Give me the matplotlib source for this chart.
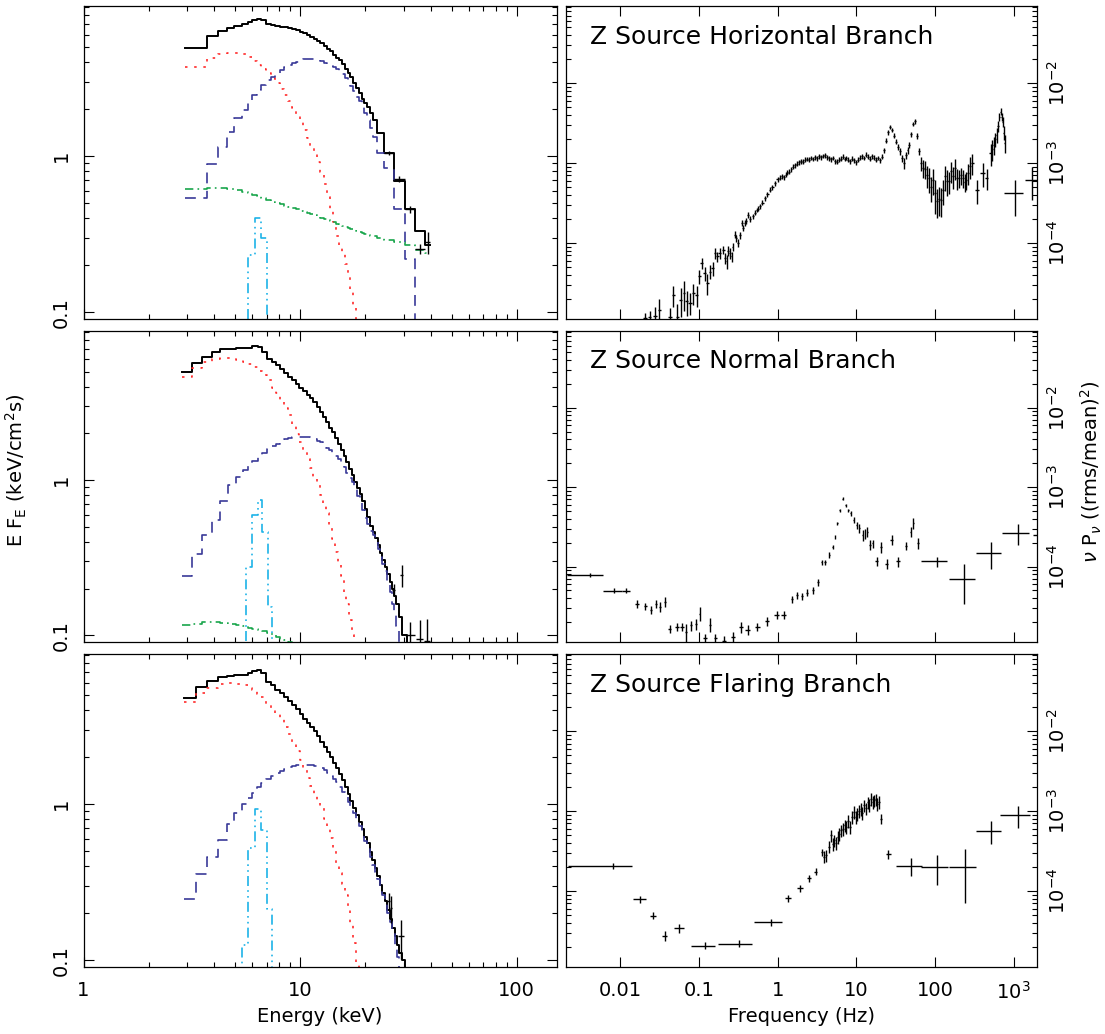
import numpy as np
import matplotlib
matplotlib.use("Agg")
import matplotlib.pyplot as plt
from matplotlib.ticker import FixedLocator, FixedFormatter, LogLocator, NullFormatter, NullLocator

plt.rcParams["font.family"] = ["DejaVu Sans"]
plt.rcParams["mathtext.fontset"] = "dejavusans"

# ---------------- energy spectra (keV, keV/cm^2/s) ----------------
# horizontal branch
hb_edges = [2.94, 3.73, 4.17, 4.59, 4.97, 5.38, 5.73, 6.02, 6.31, 6.61,
            6.97, 7.33, 7.69, 8.06, 8.43, 8.80, 9.18, 9.56, 9.95, 10.35,
            10.75, 11.15, 11.56, 11.98, 12.40, 12.83, 13.27, 13.71, 14.16, 14.62,
            15.09, 15.57, 16.06, 16.56, 17.07, 17.59, 18.12, 18.66, 19.21, 19.77,
            20.34, 20.92, 21.60, 22.60, 24.50, 27.00, 30.50, 34.00, 37.80, 39.70]
hb_total = [4.91, 5.91, 6.33, 6.59, 6.85, 7.02, 7.26, 7.45, 7.56, 7.48,
            7.02, 6.95, 6.85, 6.76, 6.68, 6.60, 6.50, 6.38, 6.25, 6.10,
            5.96, 5.80, 5.63, 5.45, 5.27, 5.08, 4.88, 4.68, 4.47, 4.26,
            4.10, 3.88, 3.62, 3.39, 3.20, 2.95, 2.74, 2.53, 2.33, 2.20,
            2.05, 1.88, 1.70, 1.40, 1.04, 0.69, 0.46, 0.33, 0.27]
hb_disk = [3.74, 4.23, 4.50, 4.60, 4.58, 4.50, 4.30, 4.08, 3.85, 3.62,
           3.40, 3.17, 2.93, 2.70, 2.47, 2.27, 2.02, 1.85, 1.65, 1.48,
           1.30, 1.16, 1.04, 0.91, 0.79, 0.66, 0.55, 0.46, 0.38, 0.31,
           0.27, 0.235, 0.205, 0.17, 0.14, 0.108, 0.085, 0.066]
hb_comp = [0.542, 0.887, 1.15, 1.42, 1.75, 1.98, 2.27, 2.45, 2.65, 2.86,
           3.05, 3.22, 3.39, 3.55, 3.70, 3.82, 3.93, 4.02, 4.10, 4.16,
           4.19, 4.19, 4.17, 4.12, 4.05, 3.97, 3.90, 3.80, 3.70, 3.62,
           3.52, 3.35, 3.15, 2.97, 2.80, 2.60, 2.40, 2.25, 2.05, 1.88,
           1.70, 1.52, 1.32, 1.05, 0.84, 0.46, 0.22, 0.04]
hb_pl = [0.617, 0.628, 0.627, 0.620, 0.605, 0.588, 0.578, 0.565, 0.552, 0.538,
         0.522, 0.510, 0.500, 0.490, 0.481, 0.472, 0.463, 0.455, 0.447, 0.439,
         0.431, 0.424, 0.417, 0.410, 0.403, 0.396, 0.389, 0.382, 0.376, 0.370,
         0.364, 0.358, 0.352, 0.346, 0.340, 0.335, 0.330, 0.326, 0.322, 0.318,
         0.314, 0.310, 0.306, 0.300, 0.292, 0.280, 0.268, 0.252, 0.240]
hb_line_edges = [5.38, 5.77, 6.20, 6.61, 7.02, 7.40]
hb_line = [0.01, 0.233, 0.40, 0.30, 0.01]
hb_data_e = [25.75, 28.75, 32.25, 35.9, 38.75]
hb_data_de = [1.25, 1.75, 1.75, 1.9, 0.95]
hb_data_v = [1.05, 0.715, 0.455, 0.255, 0.28]
hb_data_err = [0.03, 0.03, 0.025, 0.02, 0.045]

# normal branch
nb_edges = [2.86, 3.18, 3.54, 3.91, 4.27, 4.67, 5.07, 5.47, 5.75, 6.02,
            6.38, 6.70, 7.05, 7.40, 7.75, 8.10, 8.46, 8.82, 9.18, 9.55,
            9.93, 10.31, 10.70, 11.09, 11.49, 11.90, 12.31, 12.73, 13.16, 13.59,
            14.03, 14.48, 14.93, 15.39, 15.86, 16.34, 16.82, 17.31, 17.81, 18.32,
            18.84, 19.37, 19.91, 20.46, 21.02, 21.59, 22.17, 22.76, 23.36, 23.97,
            24.59, 25.22, 25.86, 26.51, 27.17, 27.84, 28.52, 29.50, 31.00, 32.50]
nb_total = [5.00, 5.72, 6.25, 6.67, 6.97, 7.05, 7.07, 7.10, 7.13, 7.37,
            7.25, 6.67, 6.04, 5.80, 5.50, 5.18, 4.92, 4.65, 4.42, 4.18,
            3.95, 3.76, 3.56, 3.38, 3.17, 2.97, 2.74, 2.55, 2.38, 2.18,
            2.03, 1.88, 1.72, 1.56, 1.43, 1.30, 1.18, 1.08, 0.98, 0.89,
            0.81, 0.73, 0.65, 0.58, 0.51, 0.465, 0.425, 0.38, 0.34, 0.305,
            0.275, 0.248, 0.222, 0.198, 0.178, 0.158, 0.132, 0.101, 0.05]
nb_disk = [4.65, 5.26, 5.80, 6.04, 6.10, 6.10, 5.95, 5.75, 5.58, 5.35,
           5.05, 4.78, 4.45, 3.95, 3.62, 3.22, 2.90, 2.62, 2.30, 1.98,
           1.75, 1.52, 1.36, 1.20, 1.05, 0.93, 0.80, 0.70, 0.61, 0.51,
           0.42, 0.345, 0.29, 0.24, 0.19, 0.16, 0.125, 0.10, 0.08, 0.065]
nb_comp = [0.242, 0.332, 0.442, 0.552, 0.732, 0.93, 1.05, 1.16, 1.24, 1.33,
           1.42, 1.50, 1.58, 1.66, 1.72, 1.78, 1.83, 1.87, 1.90, 1.91,
           1.91, 1.90, 1.89, 1.87, 1.84, 1.80, 1.75, 1.69, 1.62, 1.56,
           1.50, 1.43, 1.37, 1.31, 1.22, 1.12, 1.04, 0.97, 0.88, 0.79,
           0.72, 0.64, 0.57, 0.52, 0.47, 0.44, 0.41, 0.36, 0.32, 0.29,
           0.26, 0.225, 0.19, 0.16, 0.135, 0.115, 0.085, 0.06]
nb_pl = [0.116, 0.119, 0.121, 0.121, 0.120, 0.118, 0.116, 0.114, 0.112, 0.110,
         0.108, 0.106, 0.103, 0.100, 0.098, 0.095, 0.093, 0.091, 0.089, 0.087,
         0.085, 0.083]
nb_line_edges = [5.30, 5.63, 6.02, 6.38, 6.70, 7.09, 7.45, 7.80]
nb_line = [0.01, 0.276, 0.594, 0.743, 0.465, 0.152, 0.01]
nb_data_e = [27.0, 29.4, 32.3, 35.7, 38.5]
nb_data_de = [0.4, 0.5, 1.7, 1.4, 1.3]
nb_data_v = [0.197, 0.245, 0.100, 0.095, 0.092]
nb_data_err = [0.018, 0.04, 0.022, 0.03, 0.035]

# flaring branch
fb_edges = [2.92, 3.30, 3.73, 4.17, 4.59, 4.97, 5.38, 5.73, 6.02, 6.31,
            6.61, 6.97, 7.33, 7.69, 8.06, 8.43, 8.80, 9.18, 9.56, 9.95,
            10.35, 10.75, 11.15, 11.56, 11.98, 12.40, 12.83, 13.27, 13.71, 14.16,
            14.62, 15.09, 15.57, 16.06, 16.56, 17.07, 17.59, 18.12, 18.66, 19.21,
            19.77, 20.34, 20.92, 21.51, 22.11, 22.72, 23.34, 23.97, 24.61, 25.26,
            25.92, 26.59, 27.27, 27.96, 28.66, 29.50, 30.50, 31.50]
fb_total = [4.76, 5.65, 6.15, 6.55, 6.65, 6.70, 6.75, 6.88, 7.13, 7.20,
            6.88, 6.08, 5.75, 5.42, 5.12, 4.85, 4.55, 4.30, 4.05, 3.76,
            3.53, 3.33, 3.12, 2.92, 2.72, 2.51, 2.32, 2.15, 2.00, 1.84,
            1.70, 1.55, 1.42, 1.29, 1.16, 1.04, 0.95, 0.85, 0.77, 0.69,
            0.62, 0.56, 0.49, 0.44, 0.39, 0.345, 0.305, 0.27, 0.24, 0.21,
            0.185, 0.162, 0.142, 0.125, 0.112, 0.100, 0.05]
fb_disk = [4.53, 5.12, 5.57, 5.85, 5.93, 5.88, 5.75, 5.57, 5.35, 5.08,
           4.82, 4.40, 4.05, 3.75, 3.50, 3.12, 2.82, 2.51, 2.20, 1.92,
           1.65, 1.46, 1.30, 1.15, 1.05, 0.94, 0.80, 0.70, 0.61, 0.52,
           0.42, 0.36, 0.31, 0.26, 0.22, 0.17, 0.128, 0.095, 0.07]
fb_comp = [0.247, 0.355, 0.46, 0.59, 0.743, 0.873, 1.00, 1.10, 1.18, 1.28,
           1.37, 1.45, 1.52, 1.58, 1.63, 1.68, 1.72, 1.76, 1.78, 1.79,
           1.79, 1.78, 1.77, 1.76, 1.74, 1.71, 1.65, 1.58, 1.51, 1.45,
           1.38, 1.29, 1.20, 1.12, 1.03, 0.95, 0.88, 0.80, 0.72, 0.64,
           0.58, 0.52, 0.46, 0.41, 0.37, 0.33, 0.29, 0.26, 0.23, 0.20,
           0.175, 0.15, 0.125, 0.105, 0.08, 0.06]
fb_line_edges = [5.00, 5.38, 5.77, 6.20, 6.61, 7.02, 7.40, 7.80]
fb_line = [0.01, 0.126, 0.52, 0.93, 0.684, 0.213, 0.01]
fb_data_e = [25.6, 26.3, 29.3]
fb_data_de = [0.3, 0.35, 1.0]
fb_data_v = [0.24, 0.215, 0.142]
fb_data_err = [0.03, 0.043, 0.04]

# ---------------- power spectra (Hz, nu P_nu) ----------------
hb_freq = [0.0206, 0.0238, 0.0276, 0.0313, 0.0428, 0.0472, 0.053, 0.059, 0.0645, 0.0697,
           0.0769, 0.0848, 0.0935, 0.101, 0.108, 0.119, 0.128, 0.138, 0.149, 0.160,
           0.171, 0.185, 0.204, 0.215, 0.225, 0.236, 0.248, 0.260, 0.268, 0.287,
           0.300, 0.316, 0.330, 0.349, 0.365, 0.385, 0.400, 0.424, 0.450, 0.481,
           0.510, 0.541, 0.565, 0.596, 0.640, 0.690, 0.740, 0.798, 0.860, 0.924,
           1.00, 1.06, 1.12, 1.19, 1.26, 1.33, 1.41, 1.50, 1.58, 1.68,
           1.78, 1.88, 2.00, 2.11, 2.24, 2.37, 2.51, 2.66, 2.82, 2.99,
           3.16, 3.35, 3.55, 3.76, 3.98, 4.22, 4.47, 4.73, 5.01, 5.31,
           5.62, 5.96, 6.31, 6.68, 7.08, 7.50, 7.94, 8.41, 8.91, 9.44,
           10.0, 10.6, 11.2, 11.9, 12.6, 13.3, 14.1, 15.0, 15.8, 16.8,
           17.8, 18.8, 20.0, 21.1, 22.4, 23.7, 25.1, 26.6, 28.2, 29.9,
           31.6, 33.5, 35.5, 37.6, 39.8, 42.2, 44.7, 47.3, 50.1, 53.1,
           56.2, 59.6, 63.1, 66.8, 70.8, 75.0, 79.4, 84.1, 89.1, 94.4,
           100, 106, 112, 119, 126, 133, 141, 150, 158, 168,
           178, 188, 200, 211, 224, 237, 251, 266, 282, 298,
           509, 535, 560, 585, 607, 630, 655, 682, 705, 723,
           750, 773]
hb_pow = [1.15e-5, 1.19e-5, 1.23e-5, 1.47e-5, 1.20e-5, 2.26e-5, 1.20e-5, 1.95e-5, 2.37e-5, 1.86e-5,
          1.80e-5, 2.37e-5, 2.26e-5, 3.83e-5, 5.60e-5, 4.20e-5, 3.16e-5, 4.40e-5, 4.87e-5, 7.50e-5,
          6.80e-5, 7.50e-5, 8.25e-5, 6.50e-5, 5.90e-5, 8.00e-5, 7.50e-5, 6.80e-5, 9.00e-5, 1.27e-4,
          1.15e-4, 1.00e-4, 1.25e-4, 1.78e-4, 1.55e-4, 1.78e-4, 1.90e-4, 2.26e-4, 2.00e-4, 2.15e-4,
          2.40e-4, 2.60e-4, 2.70e-4, 2.87e-4, 3.20e-4, 3.65e-4, 4.10e-4, 4.63e-4, 5.00e-4, 5.62e-4,
          6.3e-4, 6.6e-4, 6.9e-4, 6.7e-4, 7.2e-4, 7.6e-4, 7.8e-4, 8.4e-4, 9.0e-4, 9.4e-4,
          9.8e-4, 1.02e-3, 1.06e-3, 1.04e-3, 1.10e-3, 1.13e-3, 1.10e-3, 1.16e-3, 1.13e-3, 1.18e-3,
          1.15e-3, 1.21e-3, 1.18e-3, 1.23e-3, 1.26e-3, 1.19e-3, 1.15e-3, 1.12e-3, 1.16e-3, 1.06e-3,
          1.04e-3, 1.10e-3, 1.14e-3, 1.20e-3, 1.13e-3, 1.16e-3, 1.10e-3, 1.05e-3, 1.14e-3, 1.08e-3,
          1.02e-3, 1.10e-3, 1.17e-3, 1.22e-3, 1.16e-3, 1.27e-3, 1.20e-3, 1.14e-3, 1.22e-3, 1.17e-3,
          1.10e-3, 1.16e-3, 1.08e-3, 1.20e-3, 1.45e-3, 1.90e-3, 2.45e-3, 2.87e-3, 2.60e-3, 2.20e-3,
          1.86e-3, 1.60e-3, 1.40e-3, 1.15e-3, 1.00e-3, 1.25e-3, 1.45e-3, 1.70e-3, 2.30e-3, 3.10e-3,
          3.35e-3, 2.20e-3, 1.40e-3, 1.00e-3, 8.8e-4, 8.5e-4, 7.0e-4, 6.5e-4, 5.0e-4, 6.2e-4,
          4.2e-4, 3.4e-4, 3.6e-4, 3.5e-4, 4.6e-4, 6.8e-4, 6.0e-4, 5.9e-4, 8.0e-4, 6.8e-4,
          8.7e-4, 6.5e-4, 6.5e-4, 7.0e-4, 6.5e-4, 5.8e-4, 6.2e-4, 7.5e-4, 9.1e-4, 1.0e-3,
          1.33e-3, 1.50e-3, 1.69e-3, 2.00e-3, 2.26e-3, 2.90e-3, 3.83e-3, 4.42e-3, 3.80e-3, 3.30e-3,
          2.40e-3, 1.78e-3]
hb_rel = [0.15, 0.20, 0.30, 0.35, 0.30, 0.30, 0.45, 0.40, 0.40, 0.35,
          0.30, 0.30, 0.30, 0.20, 0.15, 0.20, 0.30, 0.20, 0.20, 0.15,
          0.15, 0.15, 0.12, 0.15, 0.20, 0.15, 0.15, 0.15, 0.12, 0.10,
          0.10, 0.12, 0.10, 0.08, 0.08, 0.08, 0.08, 0.08, 0.08, 0.08,
          0.07, 0.07, 0.07, 0.07, 0.07, 0.07, 0.07, 0.07, 0.07, 0.07,
          0.07, 0.07, 0.07, 0.07, 0.07, 0.07, 0.07, 0.07, 0.07, 0.07,
          0.07, 0.07, 0.07, 0.07, 0.07, 0.07, 0.07, 0.07, 0.07, 0.07,
          0.07, 0.07, 0.07, 0.07, 0.07, 0.07, 0.07, 0.07, 0.07, 0.07,
          0.07, 0.07, 0.07, 0.07, 0.07, 0.07, 0.07, 0.07, 0.07, 0.07,
          0.07, 0.07, 0.07, 0.07, 0.07, 0.07, 0.07, 0.07, 0.07, 0.07,
          0.07, 0.07, 0.07, 0.07, 0.07, 0.07, 0.07, 0.06, 0.07, 0.07,
          0.08, 0.09, 0.09, 0.10, 0.15, 0.10, 0.10, 0.09, 0.08, 0.07,
          0.07, 0.08, 0.10, 0.20, 0.25, 0.25, 0.30, 0.35, 0.35, 0.35,
          0.45, 0.40, 0.40, 0.40, 0.35, 0.35, 0.35, 0.30, 0.30, 0.30,
          0.30, 0.30, 0.25, 0.25, 0.25, 0.25, 0.25, 0.30, 0.30, 0.30,
          0.30, 0.30, 0.25, 0.20, 0.20, 0.15, 0.12, 0.10, 0.12, 0.15,
          0.20, 0.25]
hb_wide_freq = [344, 403, 453, 1035, 1690]
hb_wide_df = [20, 25, 25, 290, 300]
hb_wide_pow = [4.63e-4, 7.5e-4, 6.5e-4, 4.2e-4, 6.2e-4]
hb_wide_rel = [0.33, 0.33, 0.30, 0.48, 0.45]

nb_freq = [0.0041, 0.0083, 0.0119, 0.0162, 0.0209, 0.0244, 0.0284, 0.0321, 0.0366, 0.0427,
           0.0525, 0.0612, 0.0692, 0.079, 0.092, 0.102, 0.119, 0.139, 0.162, 0.209,
           0.27, 0.341, 0.419, 0.552, 0.736, 0.97, 1.19, 1.54, 1.75, 2.05,
           2.38, 2.78, 3.28, 3.62, 4.0, 4.53, 5.0, 5.35, 5.72, 6.19,
           6.7, 7.38, 7.89, 8.47, 9.32, 10.1, 10.9, 12.0, 12.9, 13.8,
           14.9, 16.1, 18.1, 20.5, 24.3, 28.0, 34.0, 42.7, 49.0, 52.8,
           61.2, 105, 235, 513, 1140, 2400]
nb_df = [0.002, 0.0022, 0.0015, 0.001, 0.0008, 0.0008, 0.0008, 0.0008, 0.001, 0.002,
         0.003, 0.003, 0.002, 0.003, 0.003, 0.002, 0.006, 0.004, 0.008, 0.012,
         0.015, 0.02, 0.03, 0.04, 0.05, 0.07, 0.08, 0.05, 0.06, 0.06,
         0.07, 0.08, 0.08, 0.06, 0.07, 0.07, 0.07, 0.07, 0.07, 0.08,
         0.08, 0.10, 0.10, 0.10, 0.12, 0.12, 0.15, 0.15, 0.15, 0.2,
         0.3, 0.4, 0.6, 0.6, 1.3, 1.0, 2.2, 1.2, 1.0, 1.0,
         1.5, 38, 85, 185, 420, 650]
nb_pow = [7.8e-5, 4.97e-5, 4.97e-5, 3.39e-5, 3.14e-5, 2.85e-5, 3.39e-5, 3.1e-5, 3.6e-5, 1.65e-5,
          1.73e-5, 1.73e-5, 1.5e-5, 1.81e-5, 1.89e-5, 2.54e-5, 1.24e-5, 1.85e-5, 1.24e-5, 1.15e-5,
          1.3e-5, 1.73e-5, 1.6e-5, 1.73e-5, 2.04e-5, 2.47e-5, 2.47e-5, 3.9e-5, 4.38e-5, 4.2e-5,
          4.7e-5, 5.07e-5, 6.3e-5, 1.13e-4, 1.13e-4, 1.41e-4, 1.76e-4, 2.38e-4, 3.5e-4, 5.1e-4,
          7.17e-4, 5.9e-4, 5.1e-4, 4.66e-4, 3.85e-4, 3.33e-4, 3.03e-4, 2.5e-4, 2.6e-4, 2.75e-4,
          1.88e-4, 1.95e-4, 1.16e-4, 1.76e-4, 1.08e-4, 2.17e-4, 1.16e-4, 1.82e-4, 2.75e-4, 3.5e-4,
          1.97e-4, 1.16e-4, 7.03e-5, 1.48e-4, 2.63e-4, 2.5e-4]
nb_rel = [0.06, 0.08, 0.08, 0.12, 0.10, 0.12, 0.12, 0.14, 0.14, 0.12,
          0.12, 0.12, 0.25, 0.15, 0.15, 0.20, 0.15, 0.20, 0.15, 0.15,
          0.15, 0.15, 0.15, 0.12, 0.12, 0.12, 0.12, 0.10, 0.10, 0.10,
          0.10, 0.10, 0.10, 0.08, 0.08, 0.08, 0.06, 0.06, 0.05, 0.05,
          0.04, 0.05, 0.05, 0.06, 0.08, 0.10, 0.12, 0.15, 0.15, 0.15,
          0.15, 0.12, 0.12, 0.15, 0.15, 0.15, 0.15, 0.12, 0.15, 0.15,
          0.15, 0.15, 0.52, 0.37, 0.30, 0.70]

fb_freq = [3.90, 4.15, 4.45, 4.74, 5.00, 5.25, 5.50, 5.81, 6.10, 6.44,
           6.78, 7.13, 7.50, 7.90, 8.32, 8.80, 9.40, 9.80, 10.2, 10.7,
           11.3, 11.9, 12.5, 13.2, 13.9, 14.6, 15.4, 16.2, 17.0, 17.8,
           18.5, 19.4, 20.5]
fb_pow = [2.7e-4, 2.8e-4, 3.6e-4, 4.97e-4, 3.9e-4, 4.31e-4, 4.0e-4, 4.74e-4, 5.2e-4, 5.75e-4,
          6.0e-4, 6.64e-4, 6.3e-4, 7.5e-4, 6.3e-4, 8.5e-4, 9.7e-4, 8.4e-4, 9.3e-4, 1.0e-3,
          1.07e-3, 9.5e-4, 1.18e-3, 1.08e-3, 1.29e-3, 1.2e-3, 1.42e-3, 1.3e-3, 1.36e-3, 1.4e-3,
          1.23e-3, 1.3e-3, 8.0e-4]
fb_rel = [0.18, 0.18, 0.18, 0.18, 0.18, 0.18, 0.18, 0.18, 0.18, 0.18,
          0.18, 0.18, 0.18, 0.18, 0.18, 0.18, 0.18, 0.18, 0.18, 0.18,
          0.18, 0.18, 0.18, 0.18, 0.18, 0.18, 0.18, 0.18, 0.18, 0.18,
          0.18, 0.18, 0.15]
fb_wide_freq = [0.00815, 0.0179, 0.0262, 0.0367, 0.0564, 0.119, 0.325, 0.815, 1.36, 1.92,
                2.49, 3.05, 3.67, 25.6, 49.9, 107, 239, 514, 1130]
fb_wide_df = [0.006, 0.0035, 0.002, 0.003, 0.008, 0.04, 0.15, 0.32, 0.12, 0.15,
              0.15, 0.15, 0.1, 2.1, 18, 40, 90, 185, 460]
fb_wide_pow = [2.05e-4, 7.87e-5, 4.93e-5, 2.75e-5, 3.43e-5, 2.07e-5, 2.19e-5, 4.04e-5, 8.1e-5, 1.08e-4,
               1.44e-4, 1.74e-4, 3.09e-4, 2.89e-4, 2.05e-4, 2.01e-4, 2.01e-4, 5.64e-4, 8.83e-4]
fb_wide_rel = [0.08, 0.10, 0.10, 0.15, 0.12, 0.10, 0.10, 0.10, 0.10, 0.10,
               0.10, 0.10, 0.10, 0.12, 0.25, 0.40, 0.65, 0.32, 0.31]

titles = ["Z Source Horizontal Branch", "Z Source Normal Branch", "Z Source Flaring Branch"]

RED = "#ff2b2b"
BLUE = "#3a3a98"
GREEN = "#19a64c"
CYAN = "#1db3e8"

W, H = 1105, 1034
rows_px = [(6, 319), (331, 642), (654, 967)]


def steps(edges, vals):
    e = np.asarray(edges[:len(vals) + 1], dtype=float)
    return np.repeat(e, 2)[1:-1], np.repeat(np.asarray(vals, dtype=float), 2)


def style_axes(ax):
    for s in ax.spines.values():
        s.set_linewidth(0.9)
    ax.tick_params(which="both", direction="in", top=True, right=True,
                   width=0.8, labelsize=14)
    ax.tick_params(which="major", length=7)
    ax.tick_params(which="minor", length=3.5)


def spectrum_panel(ax, edges, total, disk, comp, ledges, line, pl, data, bottom):
    x, y = steps(edges, total)
    ax.plot(x, y, color="k", lw=1.4)
    x, y = steps(edges, disk)
    ax.plot(x, y, color=RED, lw=1.2, ls=(0, (1.5, 4)))
    x, y = steps(edges, comp)
    ax.plot(x, y, color=BLUE, lw=1.2, ls=(0, (6.5, 4.5)))
    if pl is not None:
        x, y = steps(edges, pl)
        ax.plot(x, y, color=GREEN, lw=1.2, ls=(0, (5, 2.5, 1, 2.5)))
    x, y = steps(ledges, line)
    ax.plot(x, y, color=CYAN, lw=1.2, ls=(0, (6, 2.5, 1, 2.5, 1, 2.5)))
    e, de, v, dv = data
    ax.errorbar(e, v, xerr=de, yerr=dv, fmt="none", ecolor="k", elinewidth=1.0)

    ax.set_xscale("log")
    ax.set_yscale("log")
    ax.set_xlim(1, 154)
    ax.set_ylim(0.0905, 9.15)
    ax.xaxis.set_major_locator(FixedLocator([1, 10, 100]))
    ax.xaxis.set_minor_locator(LogLocator(base=10, subs=range(2, 10)))
    ax.yaxis.set_major_locator(FixedLocator([0.1, 1, 10]))
    ax.yaxis.set_minor_locator(LogLocator(base=10, subs=range(2, 10)))
    ax.yaxis.set_major_formatter(FixedFormatter(["0.1", "1", "10"]))
    ax.yaxis.set_minor_formatter(NullFormatter())
    ax.xaxis.set_minor_formatter(NullFormatter())
    if bottom:
        ax.xaxis.set_major_formatter(FixedFormatter(["1", "10", "100"]))
    else:
        ax.xaxis.set_major_formatter(NullFormatter())
    style_axes(ax)
    ax.tick_params(axis="y", pad=9)
    ax.tick_params(axis="x", pad=10)
    for lab in ax.get_yticklabels():
        lab.set_rotation(90)
        lab.set_va("center")


def pds_errorbars(ax, f, p, rel, df=None):
    f = np.asarray(f, dtype=float)
    p = np.asarray(p, dtype=float)
    err = p * np.asarray(rel, dtype=float)
    if df is None:
        # narrow log bins: half the distance to the neighbouring points
        lf = np.log10(f)
        half = np.minimum(np.abs(np.gradient(lf)) / 2.0, 0.02)
        xerr = [f - f * 10 ** -half, f * 10 ** half - f]
    else:
        xerr = np.asarray(df, dtype=float)
    ax.errorbar(f, p, xerr=xerr, yerr=err, fmt="none", ecolor="k", elinewidth=1.0)


def pds_panel(ax, title, groups, bottom):
    for g in groups:
        pds_errorbars(ax, *g)
    ax.set_xscale("log", nonpositive="clip")
    ax.set_yscale("log", nonpositive="clip")
    ax.set_xlim(0.00202, 1977)
    ax.set_ylim(1.12e-5, 0.0925)
    ax.xaxis.set_major_locator(FixedLocator([0.01, 0.1, 1, 10, 100, 1000]))
    ax.xaxis.set_minor_locator(NullLocator())
    ax.yaxis.set_major_locator(FixedLocator([1e-4, 1e-3, 1e-2]))
    ax.yaxis.set_minor_locator(LogLocator(base=10, subs=range(2, 10)))
    ax.yaxis.set_major_formatter(FixedFormatter([r"$10^{-4}$", r"$10^{-3}$", r"$10^{-2}$"]))
    ax.yaxis.set_minor_formatter(NullFormatter())
    if bottom:
        ax.xaxis.set_major_formatter(FixedFormatter(["0.01", "0.1", "1", "10", "100", r"$10^3$"]))
    else:
        ax.xaxis.set_major_formatter(NullFormatter())
    style_axes(ax)
    ax.tick_params(axis="y", labelleft=False, labelright=True, pad=7)
    ax.tick_params(axis="x", pad=10)
    for lab in ax.get_yticklabels():
        lab.set_rotation(90)
        lab.set_va("center")
    ax.text(0.052, 0.902, title, transform=ax.transAxes, fontsize=18,
            ha="left", va="center")


fig = plt.figure(figsize=(W / 100, H / 100), dpi=100)

spectra = [
    (hb_edges, hb_total, hb_disk, hb_comp, hb_line_edges, hb_line, hb_pl,
     (hb_data_e, hb_data_de, hb_data_v, hb_data_err)),
    (nb_edges, nb_total, nb_disk, nb_comp, nb_line_edges, nb_line, nb_pl,
     (nb_data_e, nb_data_de, nb_data_v, nb_data_err)),
    (fb_edges, fb_total, fb_disk, fb_comp, fb_line_edges, fb_line, None,
     (fb_data_e, fb_data_de, fb_data_v, fb_data_err)),
]
pds = [
    [(hb_freq, hb_pow, hb_rel), (hb_wide_freq, hb_wide_pow, hb_wide_rel, hb_wide_df)],
    [(nb_freq, nb_pow, nb_rel, nb_df)],
    [(fb_freq, fb_pow, fb_rel), (fb_wide_freq, fb_wide_pow, fb_wide_rel, fb_wide_df)],
]

for i, (top, bot) in enumerate(rows_px):
    b = 1 - bot / H
    h = (bot - top) / H
    axl = fig.add_axes([83.5 / W, b, (557.4 - 83.5) / W, h])
    spectrum_panel(axl, *spectra[i], bottom=(i == 2))
    axr = fig.add_axes([565.6 / W, b, (1037 - 565.6) / W, h])
    pds_panel(axr, titles[i], pds[i], bottom=(i == 2))

fig.text(16 / W, 1 - 470 / H, r"E F$_{\rm E}$ (keV/cm$^2$s)", rotation=90,
         ha="center", va="center", fontsize=14)
fig.text(1091 / W, 1 - 472 / H, r"$\nu$ P$_\nu$ ((rms/mean)$^2$)", rotation=90,
         ha="center", va="center", fontsize=14)
fig.text(320 / W, 1 - 1017 / H, "Energy (keV)", ha="center", va="center", fontsize=14)
fig.text(801 / W, 1 - 1017 / H, "Frequency (Hz)", ha="center", va="center", fontsize=14)

fig.savefig("out.png", dpi=100)
